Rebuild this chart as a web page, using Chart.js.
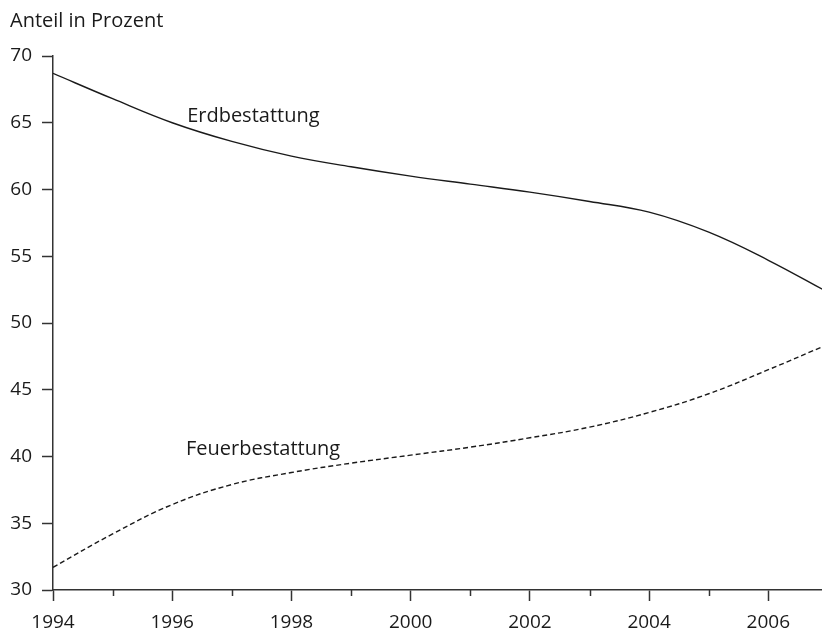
<!DOCTYPE html>
<html>
<head>
<meta charset="utf-8">
<script src="https://cdn.jsdelivr.net/npm/chart.js@4"></script>
<style>
  html, body { margin: 0; padding: 0; background: #fff; }
  #wrap { width: 822px; height: 631px; position: relative; }
</style>
</head>
<body>
<div id="wrap"><canvas id="c"></canvas></div>
<script>
const years = [1994, 1995, 1996, 1997, 1998, 1999, 2000, 2001, 2002, 2003, 2004, 2005, 2006, 2007];
const erdbestattung = [68.7, 66.8, 65.0, 63.6, 62.5, 61.7, 61.0, 60.4, 59.8, 59.1, 58.3, 56.8, 54.7, 52.3];
const feuerbestattung = [31.7, 34.2, 36.4, 37.9, 38.8, 39.5, 40.1, 40.7, 41.4, 42.2, 43.3, 44.7, 46.5, 48.4];
const yTicks = [30, 35, 40, 45, 50, 55, 60, 65, 70];
const xMajorTicks = [1994, 1996, 1998, 2000, 2002, 2004, 2006];
const xMinorTicks = [1995, 1997, 1999, 2001, 2003, 2005];
const axisTitle = 'Anteil in Prozent';
const seriesLabels = [
  { text: 'Erdbestattung', x: 1996.25, y: 65.08 },
  { text: 'Feuerbestattung', x: 1996.23, y: 40.11 }
];

const FONT = '"Open Sans", "Noto Sans", sans-serif';
const INK = '#1a1a1a';
const AXIS = '#333333';

const textPlugin = {
  id: 'texts',
  afterDraw(chart) {
    const ctx = chart.ctx;
    const xs = chart.scales.x, ys = chart.scales.y;
    ctx.save();
    ctx.fillStyle = INK;
    ctx.font = '20px ' + FONT;
    ctx.textAlign = 'left';
    ctx.textBaseline = 'alphabetic';
    ctx.fillText(axisTitle, 10, 27);
    seriesLabels.forEach(l => {
      ctx.fillText(l.text, xs.getPixelForValue(l.x), ys.getPixelForValue(l.y));
    });
    // minor x ticks
    ctx.strokeStyle = AXIS;
    ctx.lineWidth = 1.5;
    const yb = ys.bottom;
    xMinorTicks.forEach(v => {
      const px = Math.round(xs.getPixelForValue(v)) + 0.5;
      ctx.beginPath();
      ctx.moveTo(px, yb);
      ctx.lineTo(px, yb + 6);
      ctx.stroke();
    });
    ctx.restore();
  }
};

new Chart(document.getElementById('c'), {
  type: 'line',
  data: {
    labels: years,
    datasets: [
      {
        label: 'Erdbestattung',
        data: years.map((y, i) => ({ x: y, y: erdbestattung[i] })),
        borderColor: INK,
        borderWidth: 1.4,
        pointRadius: 0,
        tension: 0.4,
        fill: false
      },
      {
        label: 'Feuerbestattung',
        data: years.map((y, i) => ({ x: y, y: feuerbestattung[i] })),
        borderColor: INK,
        borderWidth: 1.4,
        borderDash: [5, 3],
        pointRadius: 0,
        tension: 0.4,
        fill: false
      }
    ]
  },
  options: {
    responsive: true,
    maintainAspectRatio: false,
    animation: false,
    layout: { padding: { top: 56, left: 0, right: 0, bottom: 0 } },
    plugins: {
      legend: { display: false },
      tooltip: { enabled: false },
      title: { display: false }
    },
    scales: {
      x: {
        type: 'linear',
        min: 1994,
        max: 2006.9,
        afterFit(s) { s.height = 41; },
        afterBuildTicks(s) { s.ticks = xMajorTicks.map(v => ({ value: v })); },
        ticks: {
          includeBounds: false,
          autoSkip: false,
          maxRotation: 0,
          padding: 10,
          color: INK,
          font: { family: FONT, size: 19 },
          callback: v => String(v)
        },
        grid: {
          drawOnChartArea: false,
          drawTicks: true,
          tickLength: 11,
          tickColor: AXIS,
          tickWidth: 1.5
        },
        border: { display: true, color: AXIS, width: 1.5 }
      },
      y: {
        min: 30,
        max: 70,
        afterFit(s) { s.width = 53; },
        afterBuildTicks(s) { s.ticks = yTicks.map(v => ({ value: v })); },
        ticks: {
          padding: 10,
          color: INK,
          font: { family: FONT, size: 19 }
        },
        grid: {
          drawOnChartArea: false,
          drawTicks: true,
          tickLength: 11,
          tickColor: AXIS,
          tickWidth: 1.5
        },
        border: { display: true, color: AXIS, width: 1.5 }
      }
    }
  },
  plugins: [textPlugin]
});
</script>
</body>
</html>
